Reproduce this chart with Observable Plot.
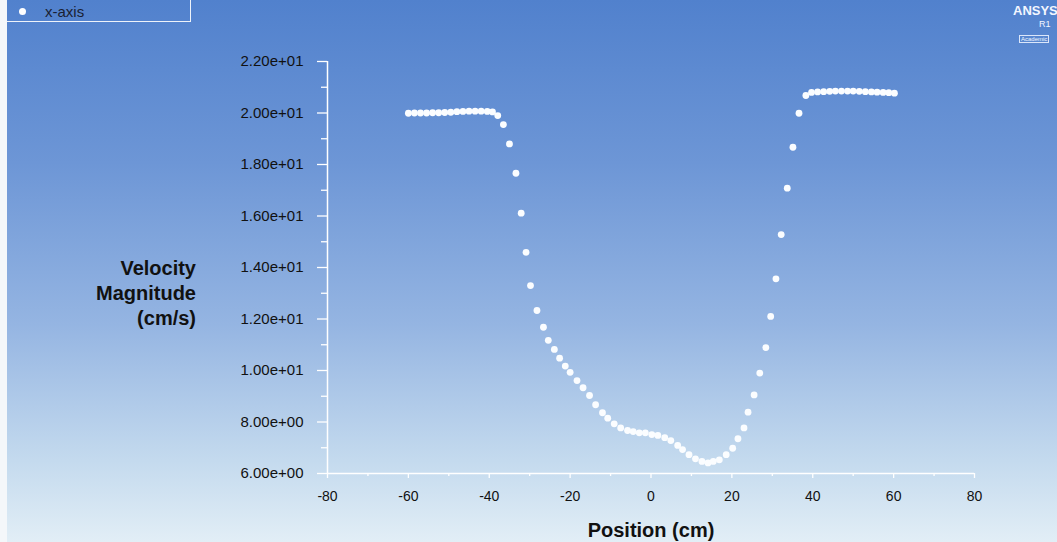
<!DOCTYPE html>
<html>
<head>
<meta charset="utf-8">
<script src="https://cdn.jsdelivr.net/npm/d3@7"></script>
<script src="https://cdn.jsdelivr.net/npm/@observablehq/plot@0.6"></script>
<style>
  html, body { margin: 0; padding: 0; }
  body { width: 1057px; height: 542px; overflow: hidden; }
  #wrap {
    position: relative; width: 1057px; height: 542px;
    background: linear-gradient(to bottom, #5181cd 0%, #6d96d6 30%, #95b5e2 60%, #c4daee 85%, #e2eef6 100%);
    font-family: "Liberation Sans", Arial, sans-serif;
  }
  #wrap svg { position: absolute; left: 0; top: 0; background: transparent; }
  #leftstrip { position: absolute; left: 0; top: 0; width: 7px; height: 542px; background: #f4f7fa; }
  .ytitle { position: absolute; right: 861px; top: 256px; text-align: right; font-weight: bold; font-size: 20px; line-height: 25px; color: #111; }
  .xtitle { position: absolute; left: 0; width: 1302px; top: 519px; text-align: center; font-weight: bold; font-size: 20px; color: #111; }
  #legend { position: absolute; left: 7px; top: 0; width: 183px; height: 21px; border-right: 1.5px solid #eef3fa; border-bottom: 1.5px solid #eef3fa; }
  #legend .dot { position: absolute; left: 12px; top: 8px; width: 7px; height: 7px; border-radius: 50%; background: #fff; }
  #legend .lab { position: absolute; left: 38px; top: 3px; font-size: 15px; color: #1a1f33; }
  #logo { position: absolute; left: 1013px; top: 3px; width: 44px; color: #f2f6ff; }
  #logo .a { font-weight: bold; font-size: 13px; letter-spacing: 0; }
  #logo .r { position: absolute; left: 26px; top: 16px; font-size: 9px; }
  #logo .c { position: absolute; left: 6px; top: 32px; font-size: 6px; border: 1px solid #dbe6fa; padding: 0 1px; white-space: nowrap; }
</style>
</head>
<body>
<div id="wrap">
  <div id="leftstrip"></div>
  <div id="legend"><div class="dot"></div><div class="lab">x-axis</div></div>
  <div id="logo"><div class="a">ANSYS</div><div class="r">R1</div><div class="c">Academic</div></div>
  <div class="ytitle">Velocity<br>Magnitude<br>(cm/s)</div>
  <div class="xtitle">Position (cm)</div>
</div>
<script>
// Probe positions (cm)
const positions = [
  -60, -58.5, -57, -55.5, -54, -52.5, -51, -49.5, -48, -46.5, -45, -43.5, -42, -40.5, -39.2,
  -37.9, -36.5, -35.0, -33.4, -32.1, -30.9, -29.8, -28.2, -26.6, -25.4, -23.9, -22.6, -21.2,
  -20.0, -18.3, -16.8, -15.2, -13.7, -12.0, -10.7, -9.1, -7.5, -5.8, -4.4, -2.9, -1.4, 0.2,
  1.7, 3.4, 4.9, 6.6, 7.8, 9.4, 11.0, 12.6, 14.1, 15.4, 16.9, 18.6, 20.2, 21.5, 23.0, 24.0,
  25.5, 26.9, 28.4, 29.6, 30.9, 32.2, 33.7, 35.1, 36.6, 38.3, 39.7,
  41.2, 42.7, 44.2, 45.6, 47.1, 48.6, 50.0, 51.5, 53.0, 54.5, 55.9, 57.4, 58.8, 60.2
];
// Velocity magnitude (cm/s)
const velocities = [
  19.99, 20.00, 20.00, 20.00, 20.01, 20.01, 20.02, 20.03, 20.05, 20.06, 20.07, 20.07, 20.07, 20.06, 20.04,
  19.90, 19.55, 18.80, 17.66, 16.11, 14.59, 13.30, 12.33, 11.68, 11.17, 10.82, 10.48, 10.17,
  9.93, 9.61, 9.33, 9.03, 8.67, 8.36, 8.15, 7.93, 7.77, 7.67, 7.63, 7.58, 7.58, 7.51,
  7.48, 7.39, 7.28, 7.09, 6.93, 6.73, 6.57, 6.47, 6.41, 6.47, 6.53, 6.73, 6.98, 7.35, 7.77, 8.38,
  9.05, 9.90, 10.89, 12.10, 13.56, 15.28, 17.08, 18.67, 19.99, 20.68, 20.80,
  20.82, 20.83, 20.84, 20.85, 20.85, 20.85, 20.85, 20.84, 20.83, 20.82, 20.81, 20.80, 20.79, 20.77
];
const xTicks = [-80, -60, -40, -20, 0, 20, 40, 60, 80];
const xMinorTicks = [-70, -50, -30, -10, 10, 30, 50, 70];
const yTicks = [6, 8, 10, 12, 14, 16, 18, 20, 22];
const yMinorTicks = [7, 9, 11, 13, 15, 17, 19, 21];

const data = positions.map((x, i) => ({x, v: velocities[i]}));
const fmt = d => d.toExponential(2).replace(/e([+-])(\d)$/, "e$10$2");

const chart = Plot.plot({
  width: 1057,
  height: 542,
  marginLeft: 327,
  marginRight: 83,
  marginTop: 61,
  marginBottom: 69,
  style: "background: transparent; font-family: 'Liberation Sans', Arial, sans-serif;",
  x: {domain: [-80, 80], axis: null},
  y: {domain: [6, 22], axis: null},
  marks: [
    Plot.ruleX([-80], {y1: 6, y2: 22, stroke: "white", strokeWidth: 1.5}),
    Plot.ruleY([6], {x1: -80, x2: 80, stroke: "white", strokeWidth: 1.5}),
    Plot.axisY(yTicks, {anchor: "left", label: null, tickSize: 10, tickPadding: 14, tickFormat: fmt, stroke: "white", fill: "#111", fontSize: 15, strokeWidth: 1.3}),
    Plot.axisY(yMinorTicks, {anchor: "left", label: null, tickSize: 6, tickFormat: () => "", stroke: "white", strokeWidth: 1.3}),
    Plot.axisX(xTicks, {anchor: "bottom", label: null, tickSize: 5, tickPadding: 13, tickFormat: d => String(d), stroke: "white", fill: "#111", fontSize: 14, strokeWidth: 1.3}),
    Plot.axisX(xMinorTicks, {anchor: "bottom", label: null, tickSize: 3, tickFormat: () => "", stroke: "white", strokeWidth: 1.3}),
    Plot.dot(data, {x: "x", y: "v", r: 3.4, fill: "#fbfdff", stroke: "none"})
  ]
});
document.getElementById("wrap").insertBefore(chart, document.getElementById("leftstrip"));
</script>
</body>
</html>
